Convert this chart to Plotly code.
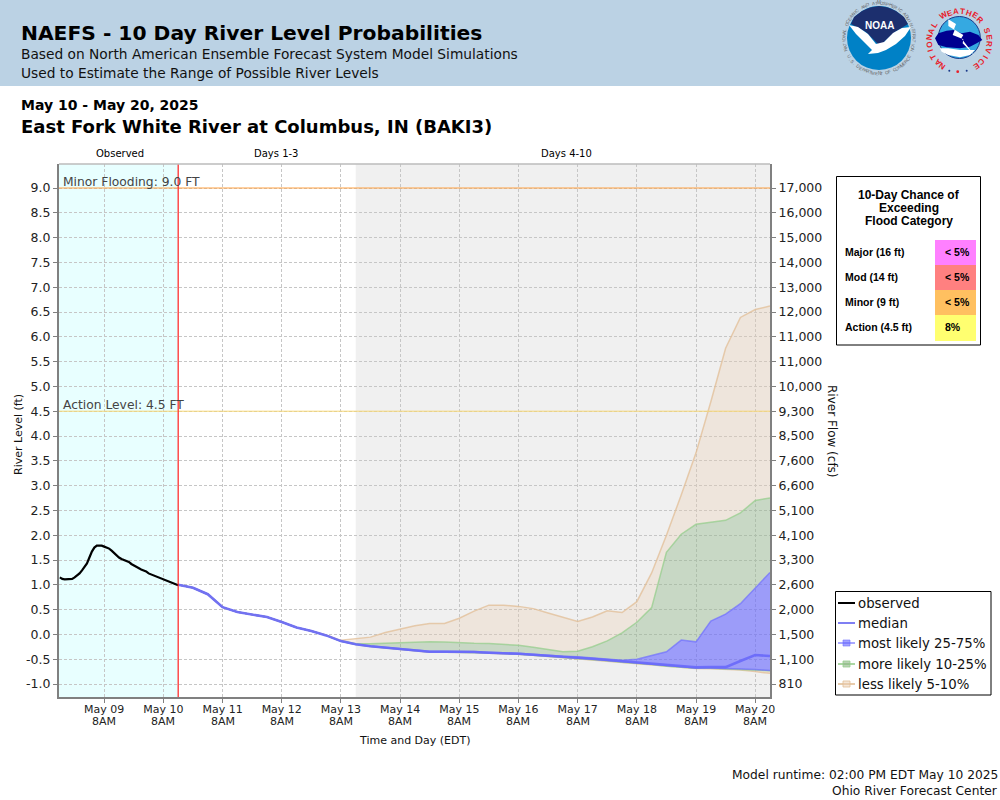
import math
import pandas as pd
import plotly.graph_objects as go

# hourly observed stage, May 08 14:00 to May 10 14:00
observed = [1.15, 1.12, 1.11, 1.11, 1.11, 1.12, 1.15, 1.19, 1.23, 1.29, 1.35, 1.43, 1.55,
            1.67, 1.75, 1.79, 1.79, 1.79, 1.77, 1.75, 1.73, 1.69, 1.64, 1.59, 1.55, 1.52,
            1.50, 1.48, 1.46, 1.42, 1.39, 1.36, 1.33, 1.31, 1.29, 1.27, 1.23, 1.21, 1.19,
            1.17, 1.15, 1.13, 1.11, 1.09, 1.08, 1.05, 1.03, 1.01, 0.99]

# 6-hourly forecast, May 10 14:00 to May 20 14:00
median = [1.00, 0.94, 0.81, 0.55, 0.45, 0.395, 0.35, 0.25, 0.14, 0.07, -0.02, -0.135, -0.20,
          -0.24, -0.265, -0.285, -0.32, -0.35, -0.35, -0.35, -0.355, -0.37, -0.375, -0.39,
          -0.41, -0.435, -0.455, -0.47, -0.49, -0.515, -0.545, -0.57, -0.59, -0.625,
          -0.645, -0.665, -0.66, -0.66, -0.535, -0.415, -0.435]
p95 = [1.00, 0.94, 0.81, 0.55, 0.45, 0.395, 0.35, 0.25, 0.14, 0.07, -0.01, -0.12, -0.09,
       -0.055, 0.04, 0.115, 0.175, 0.22, 0.22, 0.325, 0.47, 0.59, 0.59, 0.565, 0.52, 0.43,
       0.34, 0.26, 0.35, 0.475, 0.44, 0.66, 1.24, 2.00, 2.81, 3.66, 4.69, 5.77, 6.39, 6.55, 6.62]
p90 = [1.00, 0.94, 0.81, 0.55, 0.45, 0.395, 0.35, 0.25, 0.14, 0.07, -0.02, -0.13, -0.19,
       -0.19, -0.18, -0.175, -0.155, -0.15, -0.155, -0.17, -0.18, -0.185, -0.20, -0.22,
       -0.26, -0.30, -0.35, -0.34, -0.25, -0.13, 0.03, 0.245, 0.54, 1.655, 2.02, 2.22,
       2.26, 2.30, 2.45, 2.70, 2.75]
p75 = [1.00, 0.94, 0.81, 0.55, 0.45, 0.395, 0.35, 0.25, 0.14, 0.07, -0.02, -0.135, -0.195,
       -0.235, -0.26, -0.28, -0.31, -0.34, -0.34, -0.34, -0.345, -0.36, -0.365, -0.38,
       -0.40, -0.425, -0.44, -0.45, -0.47, -0.49, -0.52, -0.50, -0.43, -0.35, -0.115,
       -0.15, 0.27, 0.41, 0.62, 0.94, 1.25]
p25 = [1.00, 0.94, 0.81, 0.55, 0.45, 0.395, 0.35, 0.25, 0.14, 0.07, -0.02, -0.135, -0.20,
       -0.24, -0.27, -0.29, -0.325, -0.355, -0.355, -0.355, -0.36, -0.375, -0.38, -0.395,
       -0.415, -0.44, -0.46, -0.475, -0.495, -0.52, -0.55, -0.575, -0.60, -0.635, -0.655,
       -0.675, -0.675, -0.68, -0.70, -0.71, -0.73]
p10 = [1.00, 0.94, 0.81, 0.55, 0.45, 0.395, 0.35, 0.25, 0.14, 0.07, -0.02, -0.14, -0.205,
       -0.245, -0.27, -0.295, -0.33, -0.355, -0.355, -0.36, -0.365, -0.38, -0.385, -0.40,
       -0.42, -0.445, -0.465, -0.48, -0.50, -0.53, -0.56, -0.58, -0.605, -0.64, -0.66,
       -0.68, -0.68, -0.69, -0.705, -0.72, -0.735]
p05 = [1.00, 0.94, 0.81, 0.55, 0.45, 0.395, 0.35, 0.25, 0.14, 0.07, -0.02, -0.14, -0.205,
       -0.245, -0.275, -0.295, -0.33, -0.36, -0.36, -0.36, -0.365, -0.38, -0.385, -0.40,
       -0.42, -0.445, -0.465, -0.48, -0.505, -0.53, -0.56, -0.585, -0.61, -0.64, -0.665,
       -0.685, -0.69, -0.70, -0.72, -0.75, -0.785]

level_ticks = [-1.0, -0.5, 0.0, 0.5, 1.0, 1.5, 2.0, 2.5, 3.0, 3.5, 4.0, 4.5, 5.0, 5.5, 6.0,
               6.5, 7.0, 7.5, 8.0, 8.5, 9.0]
flow_labels = ["810", "1,100", "1,500", "2,000", "2,600", "3,300", "4,100", "5,100", "6,600",
               "7,600", "8,500", "9,300", "10,000", "11,000", "11,000", "12,000", "13,000",
               "14,000", "15,000", "16,000", "17,000"]
tick_days = ["May 09", "May 10", "May 11", "May 12", "May 13", "May 14", "May 15", "May 16",
             "May 17", "May 18", "May 19", "May 20"]
tick_dates = ["2025-05-%02d 08:00" % d for d in range(9, 21)]

flood_categories = ["Major (16 ft)", "Mod (14 ft)", "Minor (9 ft)", "Action (4.5 ft)"]
flood_chances = ["< 5%", "< 5%", "< 5%", "8%"]
flood_colors = ["#FF80FF", "#FF8080", "#FFC060", "#FFFF70"]

legend_names = ["observed", "median", "most likely 25-75%", "more likely 10-25%", "less likely 5-10%"]

observed_times = pd.date_range("2025-05-08 14:00", "2025-05-10 14:00", freq="1h")
forecast_times = pd.date_range("2025-05-10 14:00", "2025-05-20 14:00", freq="6h")

X_START = "2025-05-08 13:40"
X_END = "2025-05-20 14:00"
RUN_TIME = "2025-05-10 14:00"
DAY3_END = "2025-05-13 14:00"
MINOR = 9.0
ACTION = 4.5

PLOT_L, PLOT_R, PLOT_T, PLOT_B = 59, 770, 164, 697
FONT = "DejaVu Sans"
ARIAL = "Liberation Sans"
GRID = "#C6C6C6"

TAN_LINE, TAN_FILL = "rgba(225,190,150,0.75)", "rgba(235,205,175,0.30)"
GREEN_LINE, GREEN_FILL = "rgba(150,205,140,0.75)", "rgba(140,180,132,0.40)"
BLUE_LINE, BLUE_FILL = "rgba(110,110,255,0.7)", "rgba(100,100,255,0.60)"


def px(x):
    return (x - PLOT_L) / (PLOT_R - PLOT_L)


def py(y):
    return (PLOT_B - y) / (PLOT_B - PLOT_T)


def rect(x0, y0, x1, y1, fill=None, line=None, width=1, layer="above"):
    fig.add_shape(type="rect", xref="paper", yref="paper", x0=px(x0), x1=px(x1), y0=py(y0), y1=py(y1),
                  fillcolor=fill, line=dict(color=line, width=width if line else 0), layer=layer)


def circle(cx, cy, r, fill=None, line=None, width=1):
    rect_args = dict(x0=px(cx - r), x1=px(cx + r), y0=py(cy + r), y1=py(cy - r))
    fig.add_shape(type="circle", xref="paper", yref="paper", fillcolor=fill,
                  line=dict(color=line, width=width if line else 0), layer="above", **rect_args)


def blob(points, fill):
    path = "M " + " L ".join("%.5f,%.5f" % (px(x), py(y)) for x, y in points) + " Z"
    fig.add_shape(type="path", xref="paper", yref="paper", path=path, fillcolor=fill,
                  line=dict(width=0), layer="above")


def text(x, y, s, size=12, color="#000000", family=FONT, anchor="left", bold=False, angle=0):
    if bold:
        s = "<b>" + s + "</b>"
    fig.add_annotation(xref="paper", yref="paper", x=px(x), y=py(y), text=s, showarrow=False,
                       xanchor=anchor, yanchor="middle", textangle=angle, borderpad=0, borderwidth=0,
                       font=dict(size=size, color=color, family=family))


def ring_text(cx, cy, r, s, start, end, size, color, bold=False, inverted=False):
    step = (end - start) / (len(s) - 1)
    for i, ch in enumerate(s):
        if ch == " ":
            continue
        a = start + step * i
        x = cx + r * math.sin(math.radians(a))
        y = cy - r * math.cos(math.radians(a))
        text(x, y, ch, size=size, color=color, family=ARIAL, anchor="center", bold=bold,
             angle=a - 180 if inverted else a)


def nws(points):
    return [(920 + x / 3, y / 3) for x, y in points]


fig = go.Figure()


def band(values, name, line_color, fill_color=None):
    fig.add_trace(go.Scatter(x=forecast_times, y=values, mode="lines", name=name,
                             line=dict(color=line_color, width=1.5),
                             fill="tonexty" if fill_color else None, fillcolor=fill_color))


band(p05, "5%", TAN_LINE)
band(p10, "10%", GREEN_LINE, TAN_FILL)
band(p25, "25%", BLUE_LINE, GREEN_FILL)
band(p75, "75%", BLUE_LINE, BLUE_FILL)
band(p90, "90%", GREEN_LINE, GREEN_FILL)
band(p95, "95%", TAN_LINE, TAN_FILL)

fig.add_trace(go.Scatter(x=[X_START, X_END], y=[ACTION, ACTION], yaxis="y2", mode="lines",
                         name="Action", line=dict(color="#F7D774", width=1)))
fig.add_trace(go.Scatter(x=[X_START, X_END], y=[MINOR, MINOR], yaxis="y2", mode="lines",
                         name="Minor", line=dict(color="#FFA040", width=1)))
fig.add_trace(go.Scatter(x=forecast_times, y=median, mode="lines", name="median",
                         line=dict(color="rgba(105,105,250,0.9)", width=2.6)))
fig.add_trace(go.Scatter(x=observed_times, y=observed, mode="lines", name="observed",
                         line=dict(color="#000000", width=2.2)))

fig.add_vrect(x0=X_START, x1=RUN_TIME, fillcolor="#E8FFFF", line_width=0, layer="below")
fig.add_vrect(x0=DAY3_END, x1=X_END, fillcolor="#F0F0F0", line_width=0, layer="below")
fig.add_vline(x=RUN_TIME, line_color="#FF2020", line_width=1.2)

y_range = [-1.262, 9.484]
axis_font = dict(family=FONT, size=12.5, color="#222222")
fig.update_layout(
    width=1000, height=800, autosize=False, showlegend=False,
    margin=dict(l=PLOT_L, r=1000 - PLOT_R, t=PLOT_T, b=800 - PLOT_B, pad=0),
    paper_bgcolor="#FFFFFF", plot_bgcolor="#FFFFFF",
    xaxis=dict(type="date", range=[X_START, X_END], tickmode="array", tickvals=tick_dates,
               ticktext=tick_days, ticks="outside", ticklen=4, tickcolor="#808080",
               ticklabelstandoff=-3,
               tickfont=dict(family=FONT, size=11, color="#222222"),
               showgrid=True, gridcolor=GRID, griddash="3px,2px", gridwidth=1, zeroline=False,
               showline=True, linecolor="#808080", linewidth=2, mirror=False),
    yaxis=dict(range=y_range, tickmode="array", tickvals=level_ticks,
               ticktext=["%.1f" % v for v in level_ticks], ticks="outside", ticklen=4, tickcolor="#808080",
               tickfont=axis_font, showgrid=True, gridcolor=GRID, griddash="3px,2px", gridwidth=1,
               zeroline=False, showline=True, linecolor="#808080", linewidth=2),
    yaxis2=dict(range=y_range, overlaying="y", side="right", tickmode="array", tickvals=level_ticks,
                ticktext=flow_labels, ticks="outside", ticklen=4, tickcolor="#808080", tickfont=axis_font,
                showgrid=False, zeroline=False, showline=True, linecolor="#808080", linewidth=2),
)

# second row of the date labels
for d in tick_dates:
    fig.add_annotation(xref="x", yref="paper", x=d, y=py(721), text="8AM", showarrow=False,
                       xanchor="center", yanchor="middle", borderpad=0,
                       font=dict(family=FONT, size=11, color="#222222"))

# top edge of the plot
rect(PLOT_L, PLOT_T, PLOT_R, PLOT_T, line="#BBBBBB", width=1)

# header band and titles
rect(0, 0, 1000, 86, fill="#BBD2E4", layer="below")
text(21, 33, "NAEFS - 10 Day River Level Probabilities", size=20.25, bold=True)
text(21, 54, "Based on North American Ensemble Forecast System Model Simulations", size=13.75, color="#111111")
text(21, 73, "Used to Estimate the Range of Possible River Levels", size=13.75, color="#111111")
text(21, 105, "May 10 - May 20, 2025", size=14, bold=True)
text(21, 126, "East Fork White River at Columbus, IN (BAKI3)", size=18, bold=True)

text(120, 154, "Observed", size=10, anchor="center")
text(276, 154, "Days 1-3", size=10, anchor="center")
text(566, 154, "Days 4-10", size=10, anchor="center")

text(63, 181.5, "Minor Flooding: 9.0 FT", size=12.3, color="#444444")
text(63, 404.5, "Action Level: 4.5 FT", size=12.3, color="#444444")

text(18, 435, "River Level (ft)", size=11, color="#111111", anchor="center", angle=-90)
text(832, 431, "River Flow (cfs)", size=12, color="#111111", anchor="center", angle=90)
text(415, 740, "Time and Day (EDT)", size=11, color="#111111", anchor="center")

text(998, 775, "Model runtime: 02:00 PM EDT May 10 2025", size=12.25, color="#111111", anchor="right")
text(998, 791, "Ohio River Forecast Center", size=12.25, color="#111111", anchor="right")

# flood category table
rect(836.5, 176.5, 980.5, 345, fill="#FFFFFF", line="#000000")
for i, line in enumerate(["10-Day Chance of", "Exceeding", "Flood Category"]):
    text(908.5, 195 + 13 * i, line, size=12, family=ARIAL, anchor="center", bold=True)
for i, (cat, chance, col) in enumerate(zip(flood_categories, flood_chances, flood_colors)):
    top = 240 + 25 * i
    rect(935, top, 976, top + (26 if i == 3 else 25), fill=col)
    text(845, top + 11.5, cat, size=10.5, family=ARIAL, bold=True)
    text(945, top + 11.5, chance, size=10.5, family=ARIAL, bold=True)

# legend
rect(835.5, 591.5, 991, 695, fill="#FFFFFF", line="#000000")
row_y = [603, 623, 643, 664, 684]
row_lines = ["#000000", "rgba(95,95,240,0.8)", "rgba(110,110,255,0.6)", "rgba(150,205,140,0.8)", "rgba(225,190,150,0.8)"]
row_fills = [None, None, "rgba(100,100,255,0.6)", "rgba(140,180,132,0.6)", "rgba(235,205,175,0.5)"]
for name, y, lc, fc in zip(legend_names, row_y, row_lines, row_fills):
    fig.add_shape(type="line", xref="paper", yref="paper", x0=px(838), x1=px(855), y0=py(y), y1=py(y),
                  line=dict(color=lc, width=2), layer="above")
    if fc:
        rect(843, y - 3, 850, y + 3, fill=fc, line=lc)
    text(858, y, name, size=13.3, color="#111111")

# NOAA logo
ring_text(879, 38, 35, "NATIONAL OCEANIC AND ATMOSPHERIC ADMINISTRATION", -110, 110, 4.5, "#666666")
ring_text(879, 38, 35.5, "U.S. DEPARTMENT OF COMMERCE", 238, 122, 4.5, "#666666", inverted=True)
circle(879, 38, 32, fill="#0081C6")
blob([(854, 17), (862, 11), (870, 7.5), (879, 6), (888, 7.5), (896, 11), (904, 17), (908, 24), (895, 32),
      (886, 40), (880, 46), (874, 40), (866, 32), (851, 24)], "#1C2F6E")
blob([(849, 25), (858, 27), (868, 34), (876, 44), (884, 42), (893, 33), (902, 28), (911, 27), (905, 36),
      (896, 44), (886, 50), (878, 53), (868, 54), (872, 50), (864, 42), (856, 34)], "#FFFFFF")
text(879, 25, "NOAA", size=10, color="#FFFFFF", family=ARIAL, anchor="center", bold=True)

# NWS logo
ring_text(959.3, 41.5, 30, "NATIONAL WEATHER SERVICE", -146, 146, 8, "#E8202A", bold=True)
circle(959.3, 37.5, 21, fill="#35A9E1", line="#1A3A8A", width=1)
blob(nws([(45, 115), (55, 100), (80, 92), (100, 90), (125, 100), (150, 95), (175, 105), (187, 120),
          (170, 130), (150, 140), (120, 145), (80, 142), (55, 135)]), "#000090")
blob(nws([(60, 145), (85, 145), (120, 150), (165, 150), (150, 165), (120, 172), (85, 165), (65, 155)]), "#FFFFFF")
blob(nws([(85, 58), (108, 72), (102, 88), (130, 105), (124, 115), (165, 168), (128, 130), (130, 118),
          (98, 105), (104, 90), (85, 78)]), "#FFFFFF")
circle(949.3, 70.7, 1, fill="#1A3A8A")
circle(957.7, 71.7, 1.4, fill="#E8202A")
circle(966.7, 70.7, 1, fill="#1A3A8A")

fig.write_html("out.html", config={"displayModeBar": False}, post_script="document.body.style.margin = '0';")
